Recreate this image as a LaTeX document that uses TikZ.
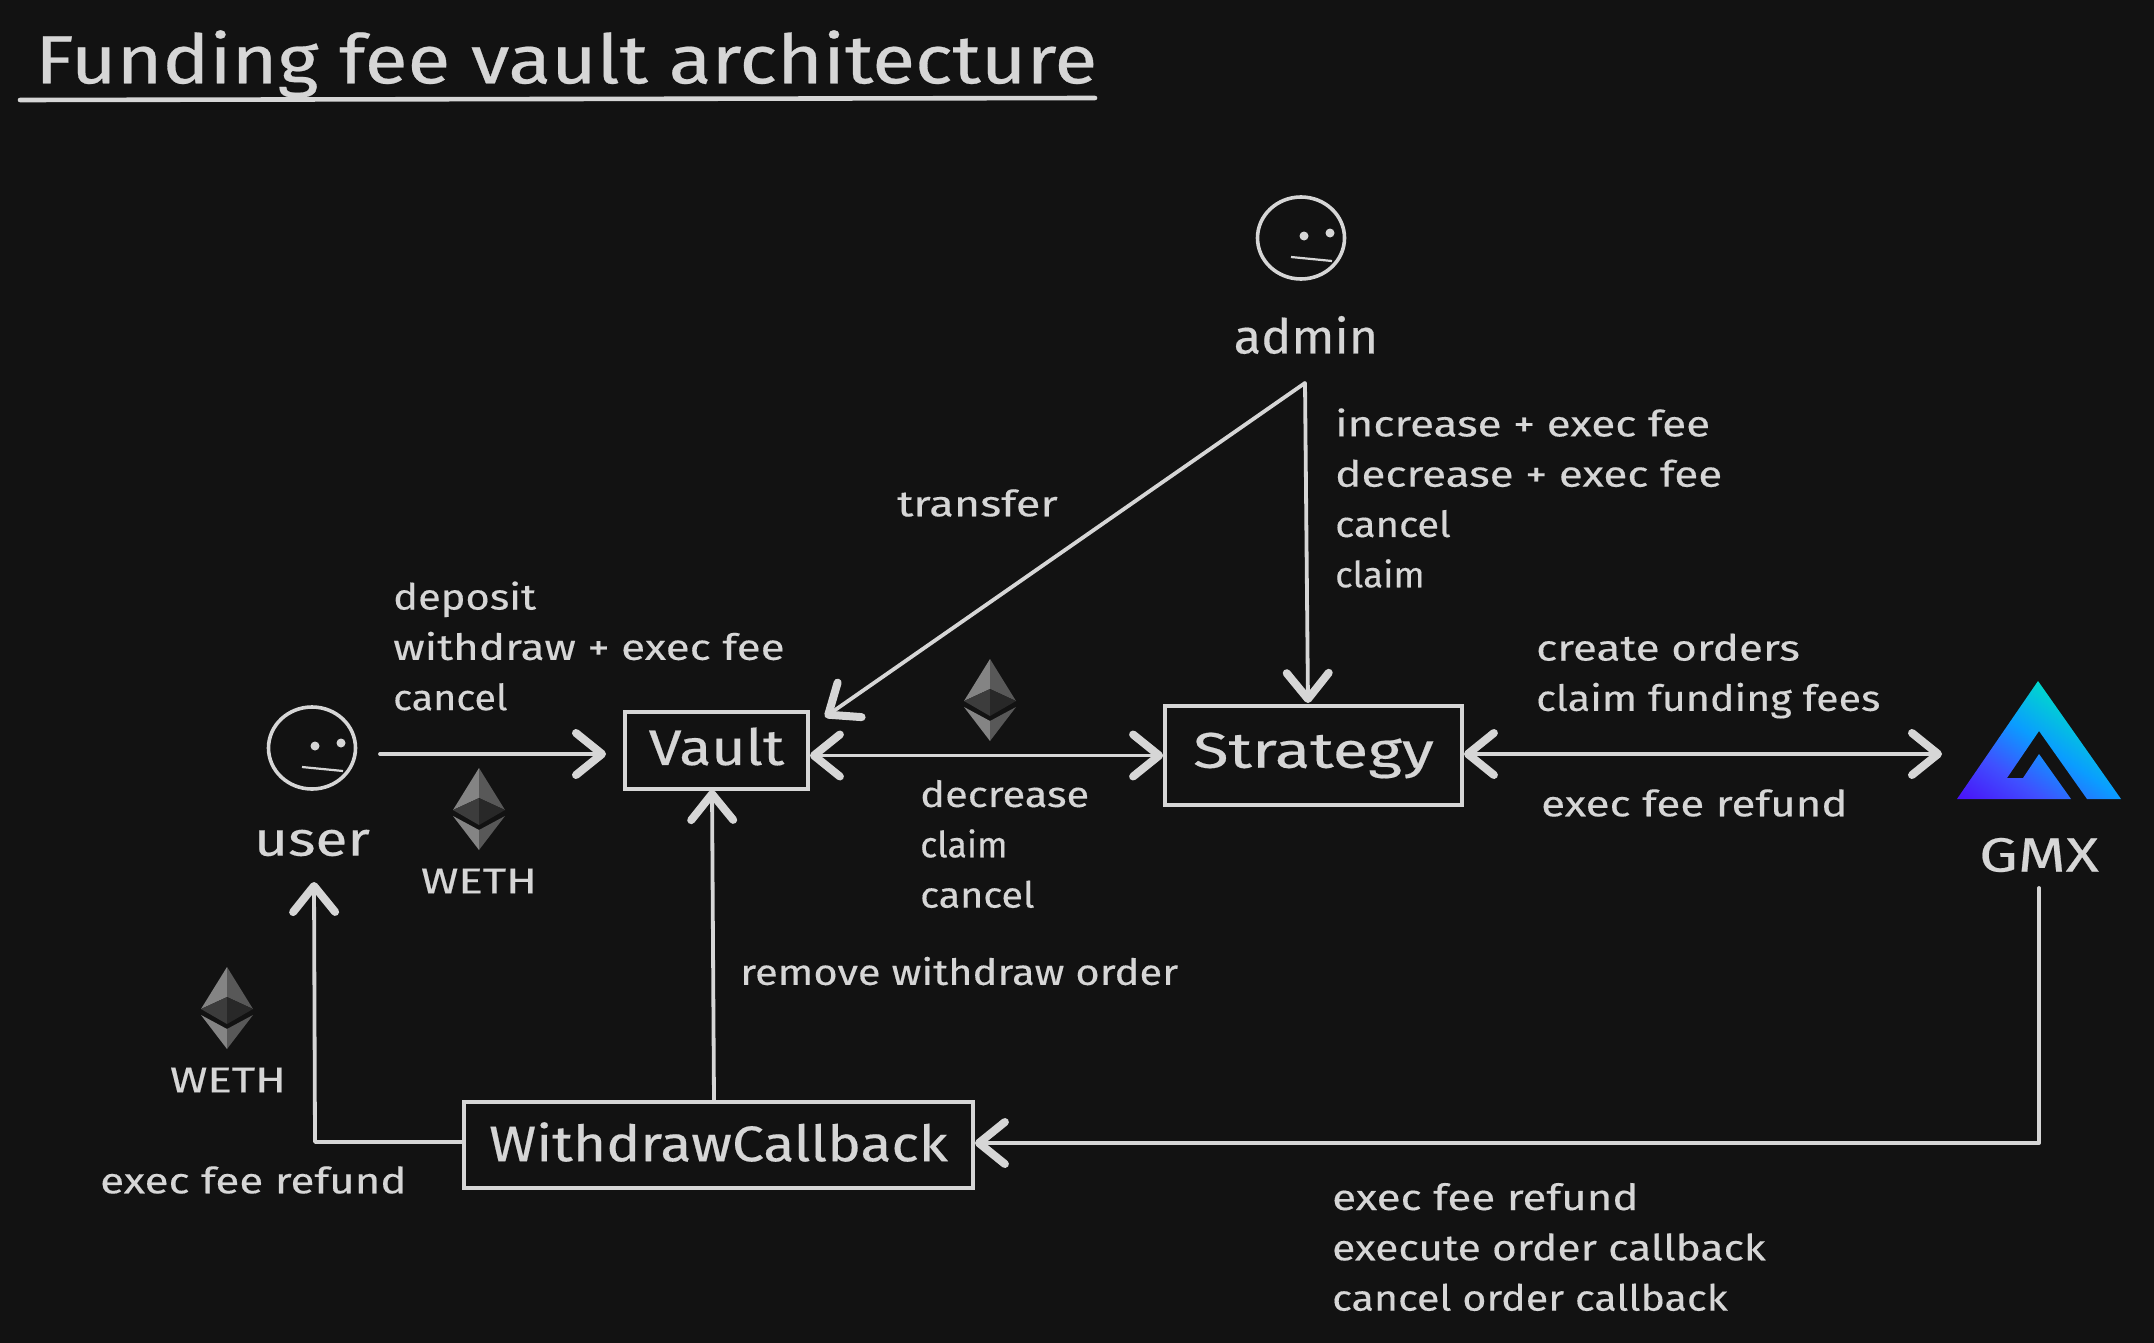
\documentclass[tikz,border=0pt]{standalone}
\usepackage{fontspec}
\setmainfont[FakeBold=0.35]{Fira Sans}
\newfontfamily\handwide[FakeStretch=1.18,FakeBold=0.35]{Fira Sans}
\usetikzlibrary{arrows.meta,calc,shapes.geometric}
\definecolor{bgc}{HTML}{121212}
\definecolor{ink}{HTML}{D6D6D6}
\definecolor{gp}{HTML}{4A10F8}
\definecolor{gm}{HTML}{3F50FF}
\definecolor{gb}{HTML}{0A9DFF}
\definecolor{gt}{HTML}{00D8CC}
\definecolor{ethA}{HTML}{848484}
\definecolor{ethB}{HTML}{585858}
\definecolor{ethC}{HTML}{3C3C3C}
\definecolor{ethD}{HTML}{282828}
\pgfdeclareverticalshading{gmxgrad}{100bp}{color(0bp)=(gp); color(37.5bp)=(gp); color(46bp)=(gm); color(54bp)=(gb); color(62.5bp)=(gt); color(100bp)=(gt)}
\newcommand{\sx}[2]{\scalebox{#1}[1]{#2}}
\newcommand{\up}[2]{\raisebox{#1}[\height][\depth]{#2}}
\tikzset{
  x=1pt,y=-1pt,
  barb/.tip={Straight Barb[length=26pt,width=42pt,line width=8pt,round]},
  conn/.style={draw=ink,line width=3.8pt,line cap=round,line join=round},
  arrow/.style={conn,-barb},
  biarrow/.style={conn,barb-barb},
  box/.style={draw=ink,line width=3.8pt,inner sep=0pt,minimum height=#1},
  boxtext/.style={font=\fontsize{50}{60}\selectfont,text=ink},
  lab/.style={font=\handwide\fontsize{36}{50.3}\selectfont,text=ink,anchor=west,align=left,inner sep=0pt},
  small/.style={font=\fontsize{36}{50}\selectfont,text=ink,inner sep=0pt},
  who/.style={font=\fontsize{48}{56}\selectfont,text=ink,inner sep=0pt},
  face/.style={draw=ink,line width=3.6pt,ellipse,minimum width=87pt,minimum height=82pt,inner sep=0pt},
  facepart/.style={fill=ink},
  pics/eth/.style={code={
    \fill[fill=ethA] (0,0)--(-26,42)--(0,30)--cycle;
    \fill[fill=ethB] (0,0)--(26,42)--(0,30)--cycle;
    \fill[fill=ethC] (-26,42)--(0,30)--(0,57)--cycle;
    \fill[fill=ethD] (26,42)--(0,30)--(0,57)--cycle;
    \fill[fill=ethA] (-26,48)--(0,62)--(0,82)--cycle;
    \fill[fill=ethB] (26,48)--(0,62)--(0,82)--cycle;
  }},
  pics/smile/.style={code={
    \fill[facepart] (3,-2) circle (4.5);
    \fill[facepart] (29,-5) circle (4.5);
    \draw[ink,line width=2.2pt] (-10,19)--(31,23);
  }}
}
\begin{document}
\begin{tikzpicture}
\useasboundingbox[fill=bgc] (0,0) rectangle (2154,1343);
% title
\node[font=\fontsize{68}{80}\selectfont,text=ink,anchor=west,inner sep=0pt] (title) at (35,64) {\sx{1.154}{Funding fee vault architecture}};
\coordinate (ulA) at (20,100);
\coordinate (ulB) at (1095,98);
\draw[conn,line width=4.6pt] (ulA)--(ulB);
% boxes
\node[box=77pt,minimum width=183pt,boxtext] (vault) at (716.5,750.5) {\up{4pt}{\sx{1.18}{Vault}}};
\node[box=99pt,minimum width=297pt,boxtext] (strategy) at (1313.5,755.5) {\sx{1.3}{Strategy}};
\node[box=86pt,minimum width=509pt,boxtext] (callback) at (718.5,1145) {\up{3pt}{\sx{1.14}{WithdrawCallback}}};
% actors
\node[face] (userface) at (312,748) {};
\pic at (userface.center) {smile};
\node[who] (user) at (312,843) {\sx{1.22}{user}};
\node[face] (adminface) at (1301,238) {};
\pic at (adminface.center) {smile};
\node[who] (admin) at (1306,335) {\sx{1.05}{admin}};
% GMX logo
\begin{scope}
\clip (2038,681)--(1957,799)--(2071,799)--(2039,754)--(2023,778)--(2007,778)--(2039,731)--(2087,799)--(2121,799)--cycle;
\shade[shading=gmxgrad,shading angle=-35] (1885,618) rectangle (2171,904);
\end{scope}
\node[who] (gmx) at (2039,855) {\sx{1.28}{GMX}};
% ethereum marks
\pic at (479,768) {eth};
\pic at (990,659) {eth};
\pic at (227,967) {eth};
\node[small] (weth1) at (479,881) {\sx{1.26}{WETH}};
\node[small] (weth2) at (228,1080) {\sx{1.26}{WETH}};
% connector ends
\coordinate (userout) at (380,754);
\coordinate (vaultleft) at (606,754);
\coordinate (adminout) at (1305,383);
\coordinate (userin) at (314,882);
\coordinate (gmxout) at (2039,888);
\coordinate (gmxturn) at (2039,1143);
\coordinate (cbturn) at (315,1142);
\coordinate (vaultdiag) at (825,717);
\coordinate (stratin) at (1308,703);
\coordinate (gmxin) at (1942,754);
\coordinate (vaultin) at (712,790);
\coordinate (cbout) at (714,1102);
% connectors
\draw[arrow] (userout)--(vaultleft);
\draw[biarrow] (vault.east |- strategy.west)--(strategy.west);
\draw[biarrow] (strategy.east |- gmxin)--(gmxin);
\draw[arrow] (adminout)--(vaultdiag);
\draw[arrow] (adminout)--(stratin);
\draw[arrow] (cbout)--(vaultin);
\draw[arrow] (gmxout)--(gmxturn)--(gmxturn -| callback.east);
\draw[arrow] (callback.west |- cbturn)--(cbturn)--(userin);
% labels
\node[lab] (l1) at (393,646) {\sx{0.98}{deposit}\\\sx{1.036}{withdraw + exec fee}\\\sx{0.93}{cancel}};
\node[lab] (l2) at (897,503) {\sx{1.06}{transfer}};
\node[lab] (l3) at (1335,498) {\sx{1.035}{increase + exec fee}\\\sx{1.035}{decrease + exec fee}\\\sx{0.94}{cancel}\\\sx{0.86}{claim}};
\node[lab] (l4) at (1536,676) {\sx{1.036}{create orders}\\\sx{0.97}{claim funding fees}};
\node[lab] (l5) at (1541,803) {\sx{1.033}{exec fee refund}};
\node[lab] (l6) at (920,844) {\sx{0.98}{decrease}\\\sx{0.84}{claim}\\\sx{0.93}{cancel}};
\node[lab] (l7) at (740,971) {\sx{0.98}{remove withdraw order}};
\node[lab] (l8) at (100,1180) {\sx{1.033}{exec fee refund}};
\node[lab] (l9) at (1332,1247) {\sx{1.033}{exec fee refund}\\\sx{1.0}{execute order callback}\\\sx{0.97}{cancel order callback}};
\end{tikzpicture}
\end{document}
